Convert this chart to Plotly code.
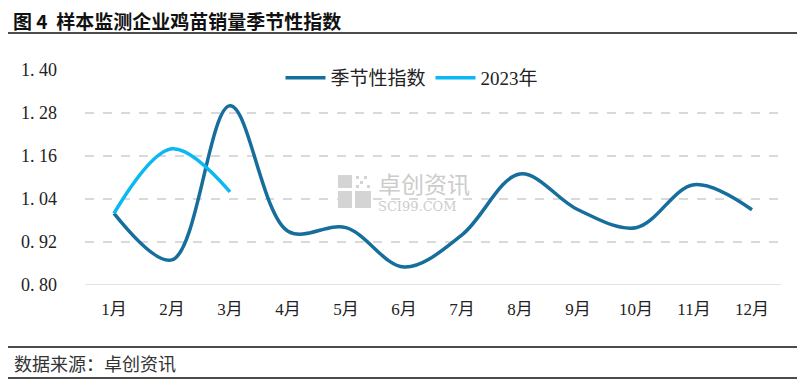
import plotly.graph_objects as go

months = ["1月", "2月", "3月", "4月", "5月", "6月", "7月", "8月", "9月", "10月", "11月", "12月"]
seasonal = [1.00, 0.87, 1.30, 0.95, 0.96, 0.85, 0.94, 1.11, 1.01, 0.96, 1.08, 1.01]
y2023 = [1.00, 1.18, 1.06]
yticks = [0.80, 0.92, 1.04, 1.16, 1.28, 1.40]
yticklabels = ["0. 80", "0. 92", "1. 04", "1. 16", "1. 28", "1. 40"]

O = 8  # page body margin offset
W, H = 805 - O, 385 - O
# reference pixel positions of plot area
PL, PR, PT, PB = 85, 781, 70, 285
L, T = PL - O, PT - O
R = W - (PR - O)
B = H - (PB - O)
pw, ph = W - L - R, H - T - B

def px(x):
    return (x - O - L) / pw

def py(y):
    return (H - B - (y - O)) / ph

FONT = "Liberation Serif, Noto Sans CJK SC"

fig = go.Figure()
fig.add_trace(go.Scatter(x=months, y=seasonal, mode="lines", name="季节性指数",
                         line=dict(color="#166e9c", width=3.5, shape="spline", smoothing=1.0)))
fig.add_trace(go.Scatter(x=months[:3], y=y2023, mode="lines", name="2023年",
                         line=dict(color="#0ab8f2", width=3.5, shape="spline", smoothing=1.0)))

fig.update_layout(
    width=W, height=H,
    margin=dict(l=L, r=R, t=T, b=B),
    paper_bgcolor="white", plot_bgcolor="white",
    font=dict(family=FONT, size=16, color="#222"),
    showlegend=True,
    legend=dict(orientation="h", x=px(412), xanchor="center", y=py(78), yanchor="middle",
                font=dict(size=19, family=FONT), bgcolor="rgba(0,0,0,0)",
                itemwidth=40, tracegroupgap=0),
    xaxis=dict(type="category", range=[-0.5, 11.5], showgrid=False, zeroline=False,
               showline=False, ticks="", ticklabelstandoff=12,
               tickfont=dict(size=17, family=FONT)),
    yaxis=dict(range=[0.80, 1.40], tickvals=yticks, ticktext=yticklabels,
               showgrid=True, gridcolor="#d9d9d9", griddash="dash", gridwidth=1.5,
               zeroline=False, showline=False, ticks="", ticklabelstandoff=27,
               tickfont=dict(size=18, family=FONT)),
)

# solid baseline at 0.80
fig.add_shape(type="line", xref="paper", yref="y", x0=0, x1=1, y0=0.80, y1=0.80,
              line=dict(color="#d9d9d9", width=1.5))

# title and separators
fig.add_annotation(text="<b>图 4  样本监测企业鸡苗销量季节性指数</b>", xref="paper", yref="paper",
                   x=px(12), y=py(21), xanchor="left", yanchor="middle", showarrow=False,
                   borderpad=0, font=dict(size=19, family="Noto Sans CJK SC", color="#111"))
for yy in (33, 347, 378):
    fig.add_shape(type="line", xref="paper", yref="paper", x0=px(8), x1=px(799),
                  y0=py(yy), y1=py(yy), line=dict(color="#111", width=1.5))
fig.add_annotation(text="数据来源：卓创资讯", xref="paper", yref="paper",
                   x=px(12), y=py(363), xanchor="left", yanchor="middle", showarrow=False,
                   font=dict(size=18, family="Noto Sans CJK SC", color="#333"))

# watermark
fig.add_annotation(text="卓创资讯", xref="paper", yref="paper", x=px(376), y=py(183),
                   xanchor="left", yanchor="middle", showarrow=False,
                   font=dict(size=23, family="Noto Sans CJK SC", color="#cccccc"))
fig.add_annotation(text="SCI99.COM", xref="paper", yref="paper", x=px(376), y=py(206),
                   xanchor="left", yanchor="middle", showarrow=False,
                   font=dict(size=13, family="DejaVu Serif", color="#cccccc"))
for (x0, y0, x1, y1) in [(338, 175, 352, 188), (338, 191, 352, 208), (355, 191, 371, 208)]:
    fig.add_shape(type="rect", xref="paper", yref="paper", x0=px(x0), x1=px(x1),
                  y0=py(y1), y1=py(y0), fillcolor="#d4d4d4", line=dict(width=0))
for (cx, cy) in [(356, 176), (364, 176), (360, 181), (356, 185), (367, 185)]:
    fig.add_shape(type="rect", xref="paper", yref="paper", x0=px(cx), x1=px(cx + 3),
                  y0=py(cy + 3), y1=py(cy), fillcolor="#d4d4d4", line=dict(width=0))

fig.write_html("out.html")
